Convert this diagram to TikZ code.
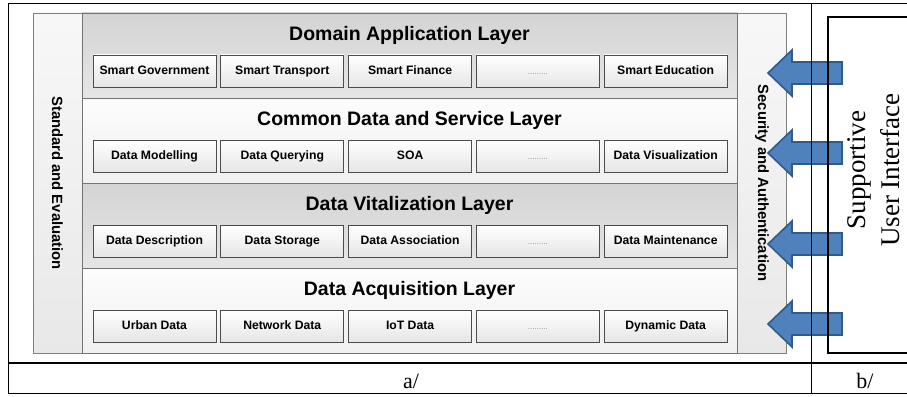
\documentclass[tikz,border=0pt]{standalone}
\usepackage{fontspec}
\setmainfont{Liberation Serif}
\setsansfont{Liberation Sans}
\usetikzlibrary{positioning}

\definecolor{arrowblue}{HTML}{4F81BD}
\definecolor{arrowedge}{HTML}{2F5A8C}

\newcommand{\itemdots}{{\color{black!45}\mdseries\fontsize{8}{8}\selectfont .........}}

\tikzset{
  layer/.style={draw=black!55, line width=0.8pt, minimum width=655pt, minimum height=85pt, inner sep=0pt},
  graylayer/.style={layer, top color=black!17, bottom color=black!10},
  whitelayer/.style={layer, top color=black!1, bottom color=black!6},
  sidebar/.style={draw=black!50, line width=0.8pt, top color=black!3, bottom color=black!9,
    minimum width=49pt, minimum height=340pt, inner sep=0pt},
  item/.style={draw=black!70, line width=0.8pt, top color=white, bottom color=black!10,
    minimum width=123pt, minimum height=32pt, inner sep=0pt, text height=8.8pt, text depth=2.6pt,
    font=\sffamily\bfseries\fontsize{12.2}{14}\selectfont},
  title/.style={font=\sffamily\bfseries\fontsize{19.5}{22}\selectfont},
  sidetext/.style={font=\sffamily\bfseries\fontsize{14.8}{17}\selectfont},
  uiarrow/.style={fill=arrowblue, draw=arrowedge, line width=1.6pt, line join=miter},
  frame/.style={draw=black, line width=0.9pt}
}

\begin{document}
\begin{tikzpicture}[x=1pt,y=-1pt]
\useasboundingbox (0,0) rectangle (907,396);
\clip (0,0) rectangle (907,396);

% side bars
\node[sidebar] (std) at (57.5,183) {};
\node[sidetext, rotate=-90] (stdtext) at (std) {Standard and Evaluation};
\node[sidebar] (sec) at (762,183) {};
\node[sidetext, rotate=-90] (sectext) at (sec) {Security and Authentication};

% layers
\node[graylayer] (dom) at (409.5,55.5) {};
\node[title] (domtitle) at (409.5,35) {Domain Application Layer};
\foreach \txt [count=\k] in {Smart Government, Smart Transport, Smart Finance, \itemdots, Smart Education}
  \node[item] (dom\k) at ({26.7+127.8*\k},71) {\txt};

\node[whitelayer] (com) at (409.5,140.5) {};
\node[title] (comtitle) at (409.5,120) {Common Data and Service Layer};
\foreach \txt [count=\k] in {Data Modelling, Data Querying, SOA, \itemdots, Data Visualization}
  \node[item] (com\k) at ({26.7+127.8*\k},156) {\txt};

\node[graylayer] (vit) at (409.5,225.5) {};
\node[title] (vittitle) at (409.5,205) {Data Vitalization Layer};
\foreach \txt [count=\k] in {Data Description, Data Storage, Data Association, \itemdots, Data Maintenance}
  \node[item] (vit\k) at ({26.7+127.8*\k},241) {\txt};

\node[whitelayer] (acq) at (409.5,310.5) {};
\node[title] (acqtitle) at (409.5,290) {Data Acquisition Layer};
\foreach \txt [count=\k] in {Urban Data, Network Data, IoT Data, \itemdots, Dynamic Data}
  \node[item] (acq\k) at ({26.7+127.8*\k},326) {\txt};

% arrows from the user interface
\foreach \c in {73,153,244,324}
  \draw[uiarrow] (842,\c-11) -- (792,\c-11) -- (792,\c-23) -- (768,\c)
    -- (792,\c+23) -- (792,\c+11) -- (842,\c+11) -- cycle;

% frame
\draw[frame] (8,3) rectangle (930,393);
\draw[frame, line width=1.3pt] (8,363) -- (930,363);
\draw[frame, line width=0.7pt] (811,3) -- (811,393);
\draw[frame, line width=1.2pt] (930,17) -- (828,17) -- (828,353) -- (930,353);

\node[rotate=90, align=center, font=\fontsize{27}{34}\selectfont] (ui) at (874,170) {Supportive\\User Interface};
\node[anchor=base, font=\fontsize{22}{24}\selectfont] (alabel) at (411,388) {a/};
\node[anchor=base, font=\fontsize{22}{24}\selectfont] (blabel) at (865,388) {b/};
\end{tikzpicture}
\end{document}
